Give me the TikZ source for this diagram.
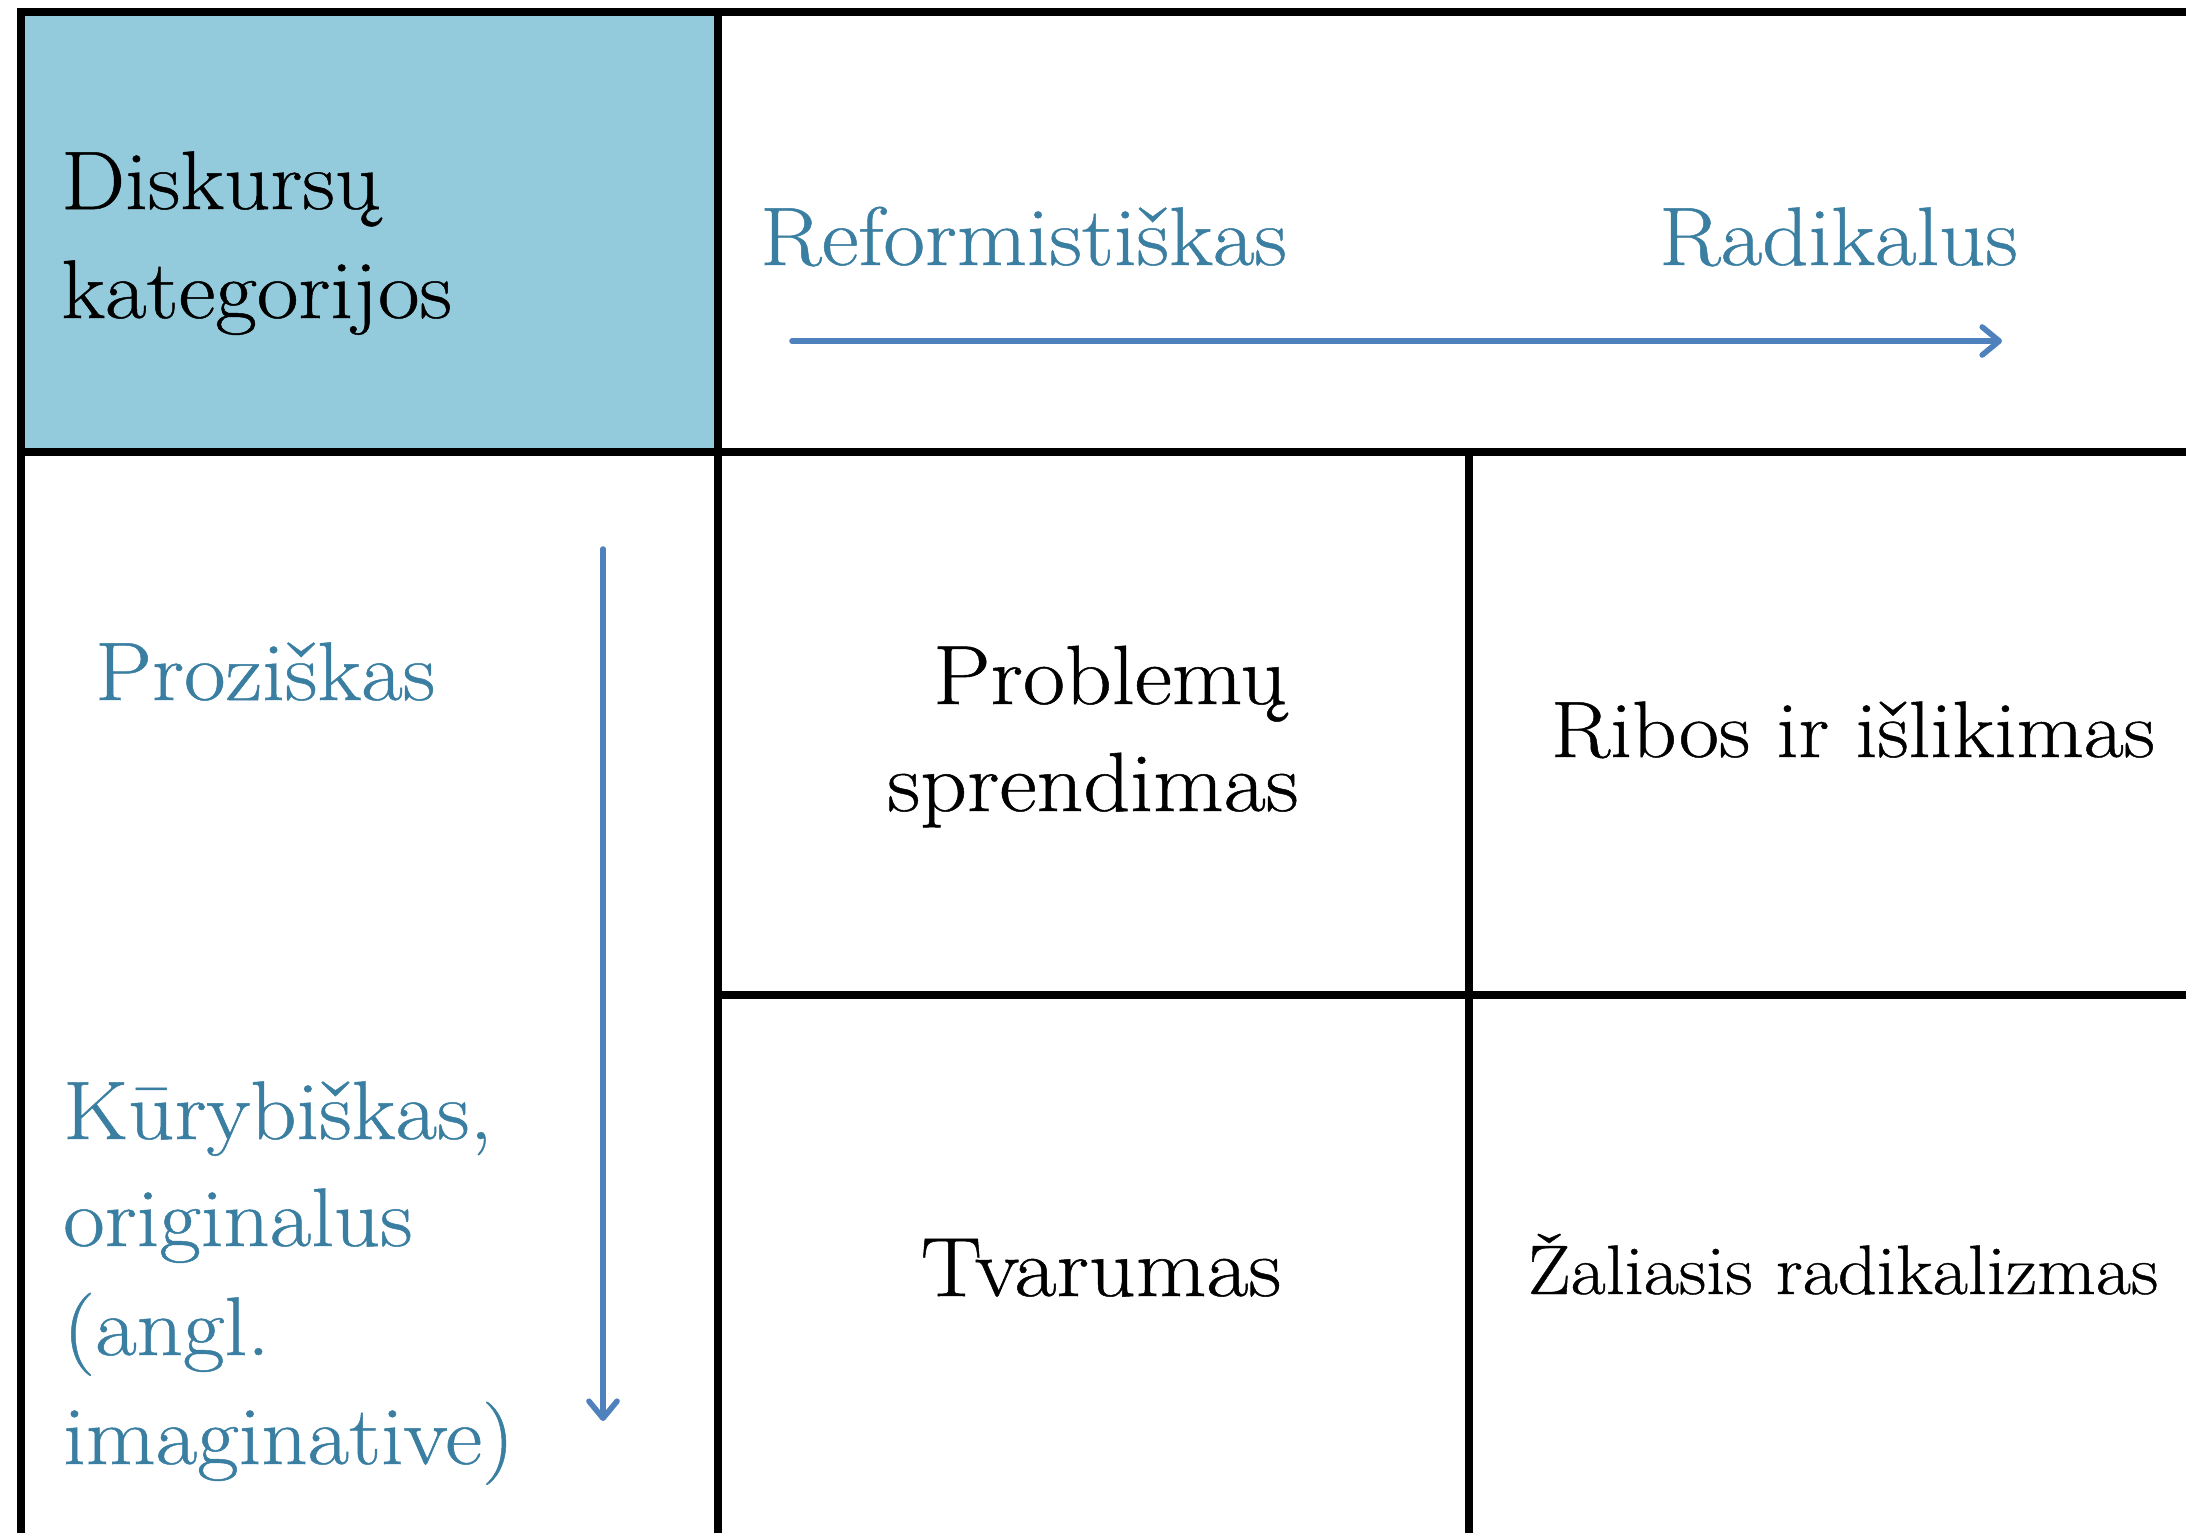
\documentclass[tikz,border=0pt]{standalone}
\usepackage{fontspec}
\setmainfont{Latin Modern Roman}[FakeStretch=1.09, FakeBold=0.6]
\usetikzlibrary{arrows.meta}
\definecolor{hdrfill}{HTML}{94CBDC}
\definecolor{axistext}{HTML}{3A7EA1}
\definecolor{axisline}{HTML}{4F81BD}
\tikzset{
  grid/.style={line width=7.5pt, draw=black},
  axisarrow/.style={line width=5.6pt, draw=axisline, line cap=round,
    -{Straight Barb[length=17pt,width=28pt,line cap=round,line join=round]}},
  bigtext/.style={font=\fontsize{83}{108}\selectfont, inner sep=0pt, anchor=base west, align=left},
  axis/.style={bigtext, text=axistext},
  cell/.style={font=\fontsize{84}{108}\selectfont, inner sep=0pt, anchor=base, align=center, text=black},
}
\begin{document}
\begin{tikzpicture}[x=1pt,y=-1pt]
\useasboundingbox (0,0) rectangle (2186,1532);
% header fill
\fill[hdrfill] (21,12) rectangle (718,452);
% grid
\draw[grid, line join=miter] (2190,12) -- (21,12) -- (21,1540);
\draw[grid] (21,452) -- (2190,452);
\draw[grid] (718,12) -- (718,1540);
\draw[grid] (1469,452) -- (1469,1540);
\draw[grid] (718,995) -- (2190,995);
% header text
\node[bigtext, text=black] (hdr1) at (61,209) {Diskursų};
\node[bigtext, text=black] (hdr2) at (61,318) {kategorijos};
% top axis
\node[axis] (reform) at (760,265) {Reformistiškas};
\node[axis] (radik) at (1659,265) {Radikalus};
\coordinate (hstart) at (792,341);
\coordinate (hend) at (2002,341);
\draw[axisarrow] (hstart) -- (hend);
% left axis
\node[axis] (proz) at (95,700) {Proziškas};
\node[axis] (kur1) at (63,1139) {Kūrybiškas,};
\node[axis] (kur2) at (63,1246) {originalus};
\node[axis] (kur3) at (63,1355) {(angl.};
\node[axis] (kur4) at (63,1464) {imaginative)};
\coordinate (vstart) at (603,549);
\coordinate (vend) at (603,1421);
\draw[axisarrow] (vstart) -- (vend);
% cells
\node[cell] (c11a) at (1110,704) {Problemų};
\node[cell] (c11b) at (1093,811) {sprendimas};
\node[cell, font=\fontsize{80}{100}\selectfont] (c12) at (1853,757) {Ribos ir išlikimas};
\node[cell] (c21) at (1101,1296) {Tvarumas};
\node[cell, font=\fontsize{70}{90}\selectfont] (c22) at (1843,1294) {Žaliasis radikalizmas};
\end{tikzpicture}
\end{document}
